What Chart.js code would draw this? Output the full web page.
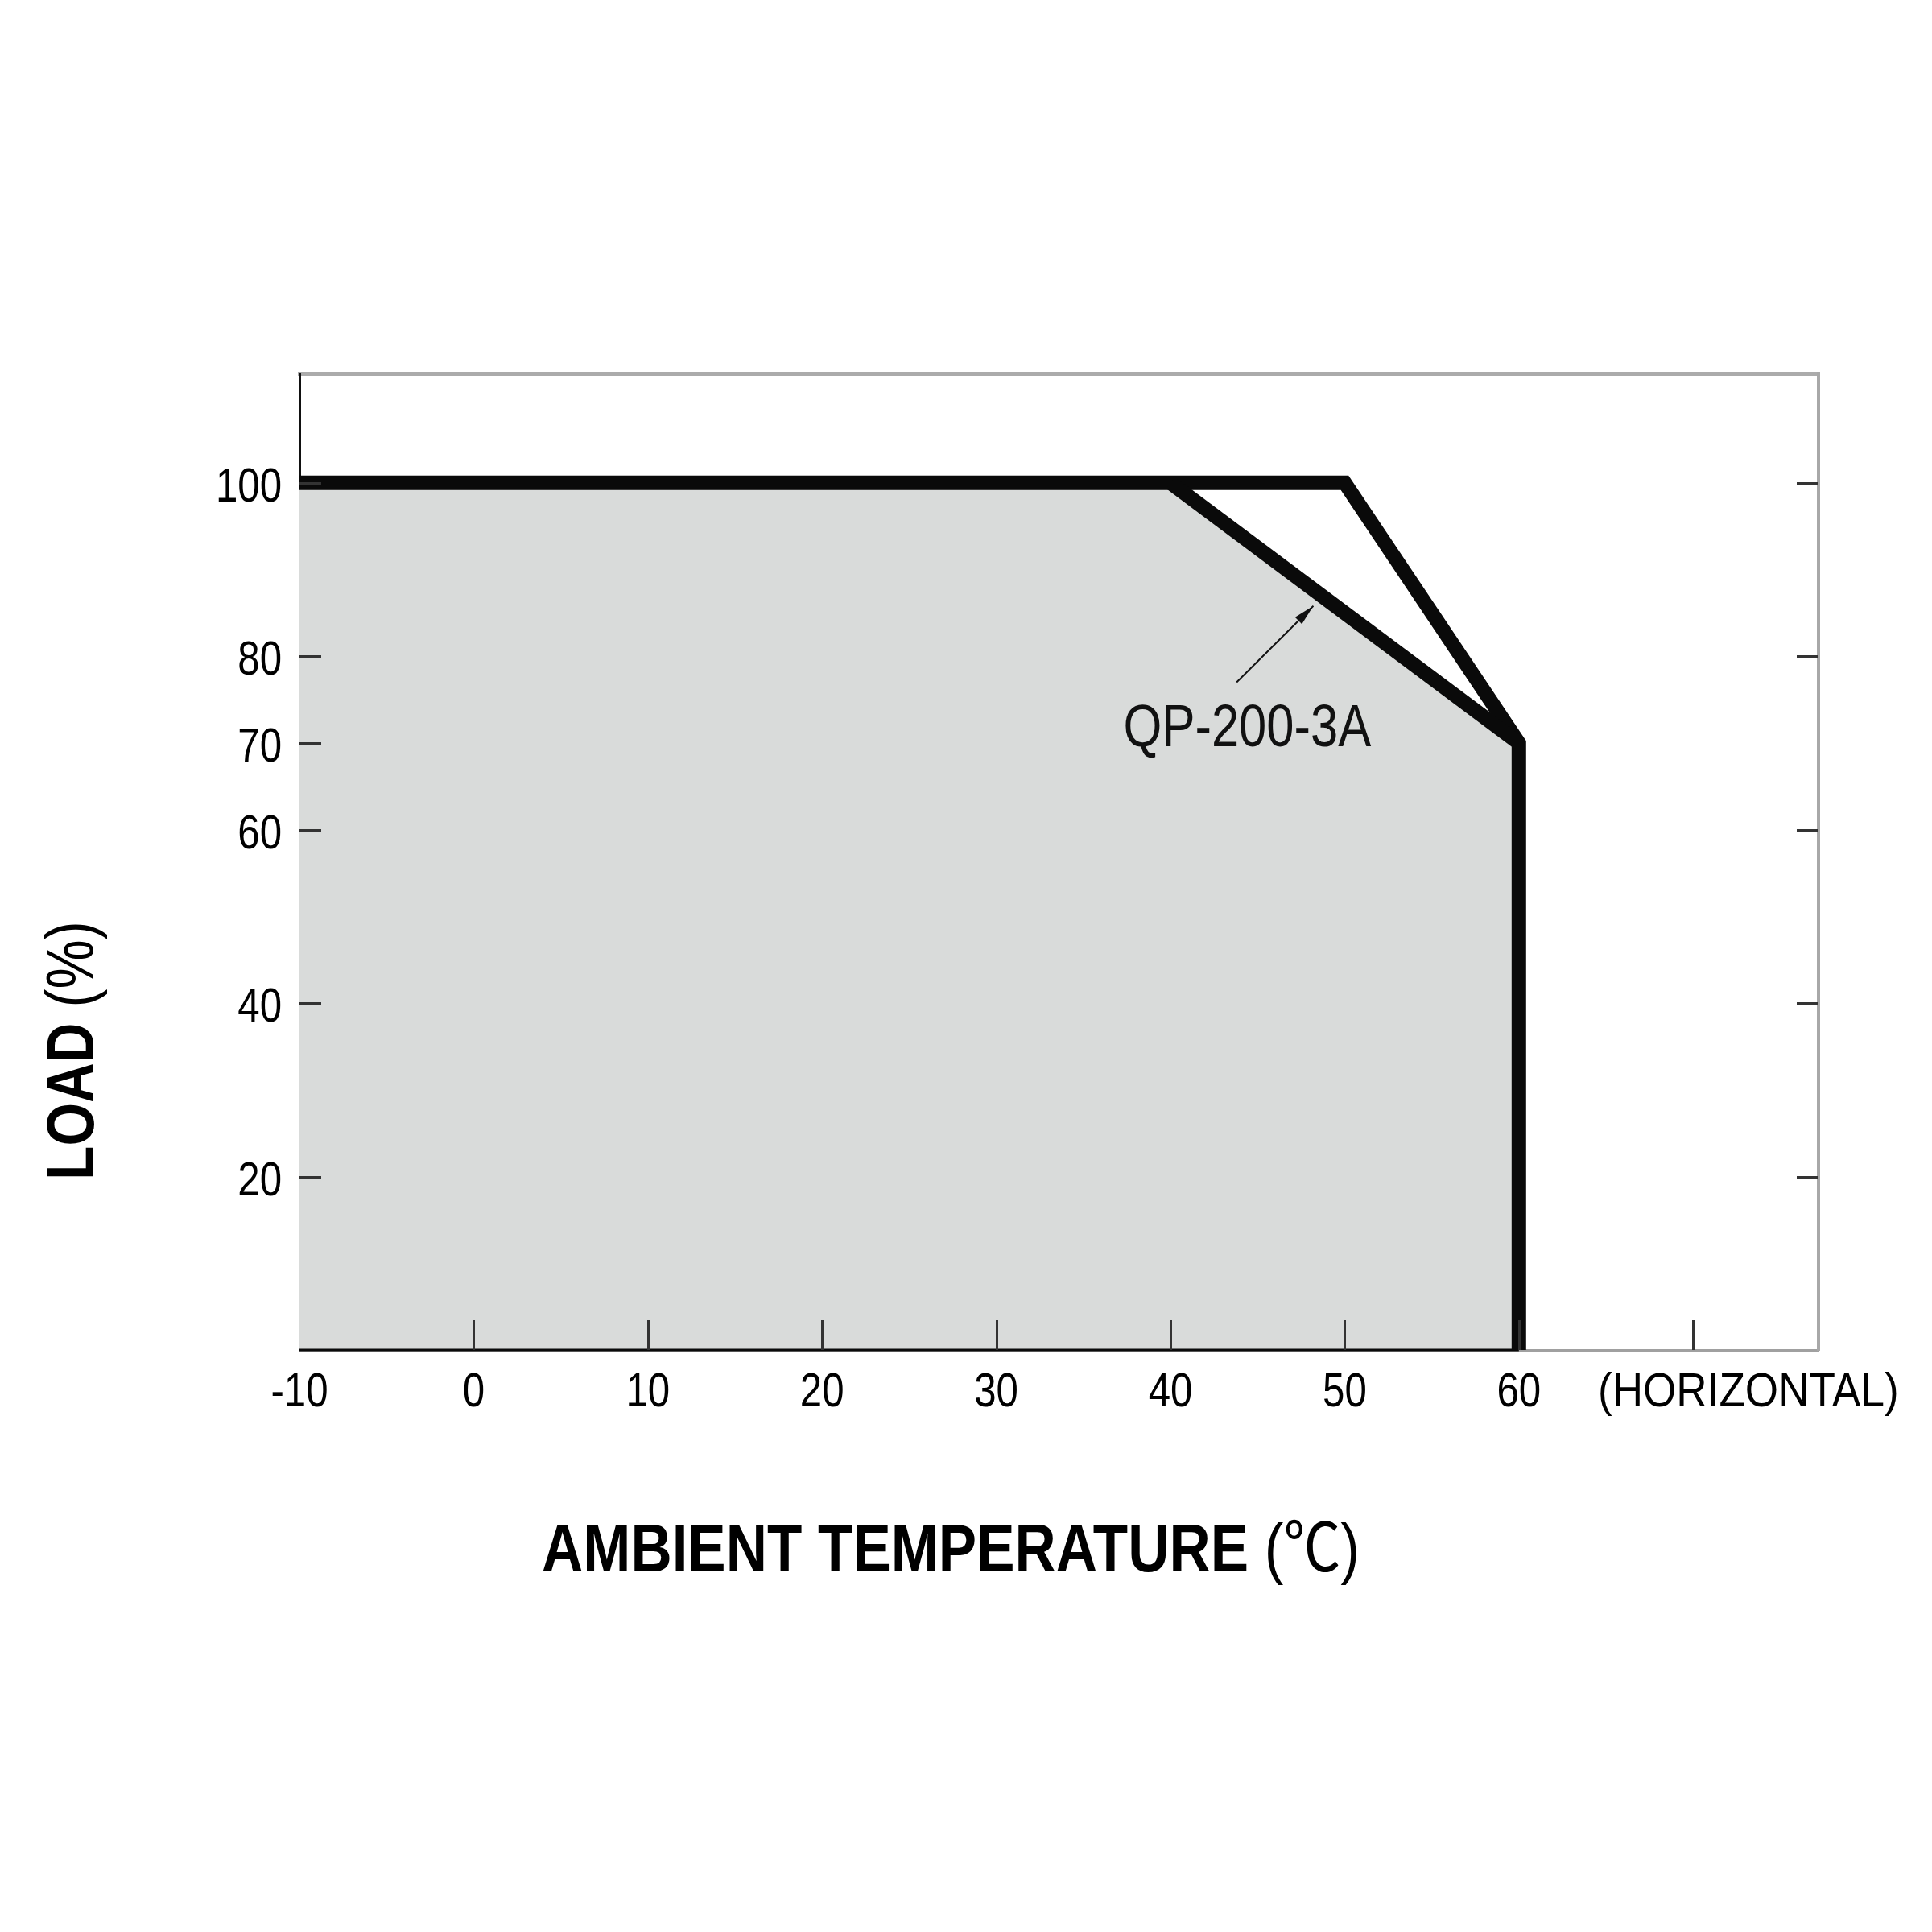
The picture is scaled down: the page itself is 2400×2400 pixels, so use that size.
<!DOCTYPE html>
<html>
<head>
<meta charset="utf-8">
<script src="https://cdn.jsdelivr.net/npm/chart.js@4"></script>
<style>
  body { margin: 0; background: #fff; }
  canvas { display: block; }
</style>
</head>
<body>
<canvas id="derating" width="2400" height="2400"></canvas>
<script>
// derating curve, ambient temperature vs load
const xTicks = [-10, 0, 10, 20, 30, 40, 50, 60, 70];
const xLabels = ['-10', '0', '10', '20', '30', '40', '50', '60', ''];
const yTicks = [20, 40, 60, 70, 80, 100];

// shaded area (QP-200-3A)
const areaX = [-10, 40, 60, 60];
const areaY = [100, 100, 70, 0];
// outer curve
const outerX = [-10, 50, 60, 60];
const outerY = [100, 100, 70, 0];
// QP-200-3A curve
const modelX = [40, 60];
const modelY = [100, 70];

const modelName = 'QP-200-3A';
const labelAt = [37.3, 69.6];
const arrowFrom = [43.8, 77.0];
const arrowTo = [48.2, 85.8];

const SANS = "'Liberation Sans', Arial, sans-serif";
const NARROW = 0.82; // horizontal squeeze, the original uses a narrow face
const INK = '#0a0a0a';

const pts = (xs, ys) => xs.map((v, i) => ({ x: v, y: ys[i] }));

// fillText squeezed horizontally, returns drawn width
function narrowText(ctx, text, x, y, font, align, sq = NARROW) {
  ctx.save();
  ctx.font = font;
  const w = ctx.measureText(text).width * sq;
  let left = x;
  if (align === 'center') left = x - w / 2;
  if (align === 'right') left = x - w;
  ctx.translate(left, y);
  ctx.scale(sq, 1);
  ctx.textAlign = 'left';
  ctx.textBaseline = 'alphabetic';
  ctx.fillText(text, 0, 0);
  ctx.restore();
  return w;
}
function narrowWidth(ctx, text, font, sq = NARROW) {
  ctx.save();
  ctx.font = font;
  const w = ctx.measureText(text).width * sq;
  ctx.restore();
  return w;
}

const overlay = {
  id: 'overlay',
  afterDatasetsDraw(chart) {
    const { ctx, scales: { x, y }, chartArea: a } = chart;
    ctx.save();
    // dark bottom edge under the shaded part
    ctx.strokeStyle = INK;
    ctx.lineWidth = 3;
    ctx.beginPath();
    ctx.moveTo(a.left, a.bottom);
    ctx.lineTo(x.getPixelForValue(areaX[areaX.length - 1]), a.bottom);
    ctx.stroke();

    // inner ticks
    ctx.strokeStyle = '#333';
    ctx.lineWidth = 3;
    xTicks.forEach(v => {
      if (v <= -10) return;
      const px = Math.round(x.getPixelForValue(v)) + 0.5;
      ctx.beginPath();
      ctx.moveTo(px, a.bottom);
      ctx.lineTo(px, a.bottom - 37);
      ctx.stroke();
    });
    yTicks.forEach(v => {
      const py = Math.round(y.getPixelForValue(v)) + 0.5;
      ctx.beginPath();
      ctx.moveTo(a.left, py);
      ctx.lineTo(a.left + 27, py);
      ctx.stroke();
      if (v !== 70) {
        ctx.beginPath();
        ctx.moveTo(a.right, py);
        ctx.lineTo(a.right - 27, py);
        ctx.stroke();
      }
    });

    // annotation arrow
    const x0 = x.getPixelForValue(arrowFrom[0]), y0 = y.getPixelForValue(arrowFrom[1]);
    const x1 = x.getPixelForValue(arrowTo[0]), y1 = y.getPixelForValue(arrowTo[1]);
    const ang = Math.atan2(y1 - y0, x1 - x0);
    ctx.strokeStyle = '#111';
    ctx.lineWidth = 2;
    ctx.beginPath();
    ctx.moveTo(x0, y0);
    ctx.lineTo(x1, y1);
    ctx.stroke();
    ctx.fillStyle = '#111';
    ctx.beginPath();
    ctx.moveTo(x1, y1);
    ctx.lineTo(x1 - 26 * Math.cos(ang) + 6 * Math.sin(ang), y1 - 26 * Math.sin(ang) - 6 * Math.cos(ang));
    ctx.lineTo(x1 - 26 * Math.cos(ang) - 6 * Math.sin(ang), y1 - 26 * Math.sin(ang) + 6 * Math.cos(ang));
    ctx.closePath();
    ctx.fill();

    ctx.fillStyle = '#111';
    narrowText(ctx, modelName, x.getPixelForValue(labelAt[0]), y.getPixelForValue(labelAt[1]), '75px ' + SANS, 'left');
    ctx.restore();
  },
  afterDraw(chart) {
    const { ctx, scales: { x, y }, chartArea: a } = chart;
    ctx.save();
    ctx.fillStyle = '#000';
    const tickF = '60px ' + SANS;

    // tick labels
    xTicks.forEach((v, i) => {
      if (xLabels[i]) narrowText(ctx, xLabels[i], x.getPixelForValue(v), a.bottom + 70, tickF, 'center');
    });
    yTicks.forEach(v => {
      narrowText(ctx, String(v), a.left - 22, y.getPixelForValue(v) + 23, tickF, 'right');
    });
    narrowText(ctx, '(HORIZONTAL)', 1985, a.bottom + 70, tickF, 'left', 0.885);

    // x title
    const tq = 0.845;
    const boldF = 'bold 84px ' + SANS;
    const regF = "84px 'Liberation Sans', 'Noto Sans CJK JP', sans-serif";
    const a1 = 'AMBIENT TEMPERATURE ', a2 = '(℃)';
    const w1 = narrowWidth(ctx, a1, boldF, tq), w2 = narrowWidth(ctx, a2, regF, tq);
    let sx = 1181 - (w1 + w2) / 2;
    narrowText(ctx, a1, sx, 1952, boldF, 'left', tq);
    narrowText(ctx, a2, sx + w1, 1952, regF, 'left', tq);

    // y title
    ctx.translate(116, 1305);
    ctx.rotate(-Math.PI / 2);
    const b1 = 'LOAD ', b2 = '(%)';
    const v1 = narrowWidth(ctx, b1, boldF), v2 = narrowWidth(ctx, b2, regF);
    sx = -(v1 + v2) / 2;
    narrowText(ctx, b1, sx, 0, boldF, 'left');
    narrowText(ctx, b2, sx + v1, 0, regF, 'left');
    ctx.restore();
  }
};

new Chart(document.getElementById('derating'), {
  type: 'scatter',
  data: {
    datasets: [
      {
        data: pts(modelX, modelY),
        showLine: true,
        borderColor: INK,
        borderWidth: 18,
        pointRadius: 0,
        fill: false
      },
      {
        data: pts(outerX, outerY),
        showLine: true,
        borderColor: INK,
        borderWidth: 18,
        borderJoinStyle: 'miter',
        pointRadius: 0,
        fill: false
      },
      {
        data: pts(areaX, areaY),
        showLine: true,
        borderWidth: 0,
        borderColor: 'rgba(0,0,0,0)',
        backgroundColor: '#d9dbda',
        pointRadius: 0,
        fill: 'origin'
      }
    ]
  },
  options: {
    responsive: false,
    animation: false,
    layout: { padding: { left: 0, top: 464, right: 141, bottom: 0 } },
    plugins: { legend: { display: false }, tooltip: { enabled: false } },
    scales: {
      x: {
        type: 'linear',
        position: 'bottom',
        min: -10,
        max: 77.2,
        afterBuildTicks: s => { s.ticks = xTicks.map(v => ({ value: v })); },
        afterFit: s => { s.height = 723; },
        grid: { display: false, drawTicks: false },
        border: { display: true, color: '#a0a0a0', width: 3 },
        ticks: { display: false }
      },
      x2: {
        type: 'linear',
        position: 'top',
        min: -10,
        max: 77.2,
        afterFit: s => { s.height = 0; },
        grid: { display: false, drawTicks: false },
        border: { display: true, color: '#ababab', width: 5 },
        ticks: { display: false }
      },
      y: {
        type: 'linear',
        position: 'left',
        min: 0,
        max: 112.6,
        afterBuildTicks: s => { s.ticks = yTicks.map(v => ({ value: v })); },
        afterFit: s => { s.width = 372; },
        grid: { display: false, drawTicks: false },
        border: { display: true, color: '#111', width: 3 },
        ticks: { display: false }
      },
      y2: {
        type: 'linear',
        position: 'right',
        min: 0,
        max: 112.6,
        afterFit: s => { s.width = 0; },
        grid: { display: false, drawTicks: false },
        border: { display: true, color: '#a8a8a8', width: 4 },
        ticks: { display: false }
      }
    }
  },
  plugins: [overlay]
});
</script>
</body>
</html>
